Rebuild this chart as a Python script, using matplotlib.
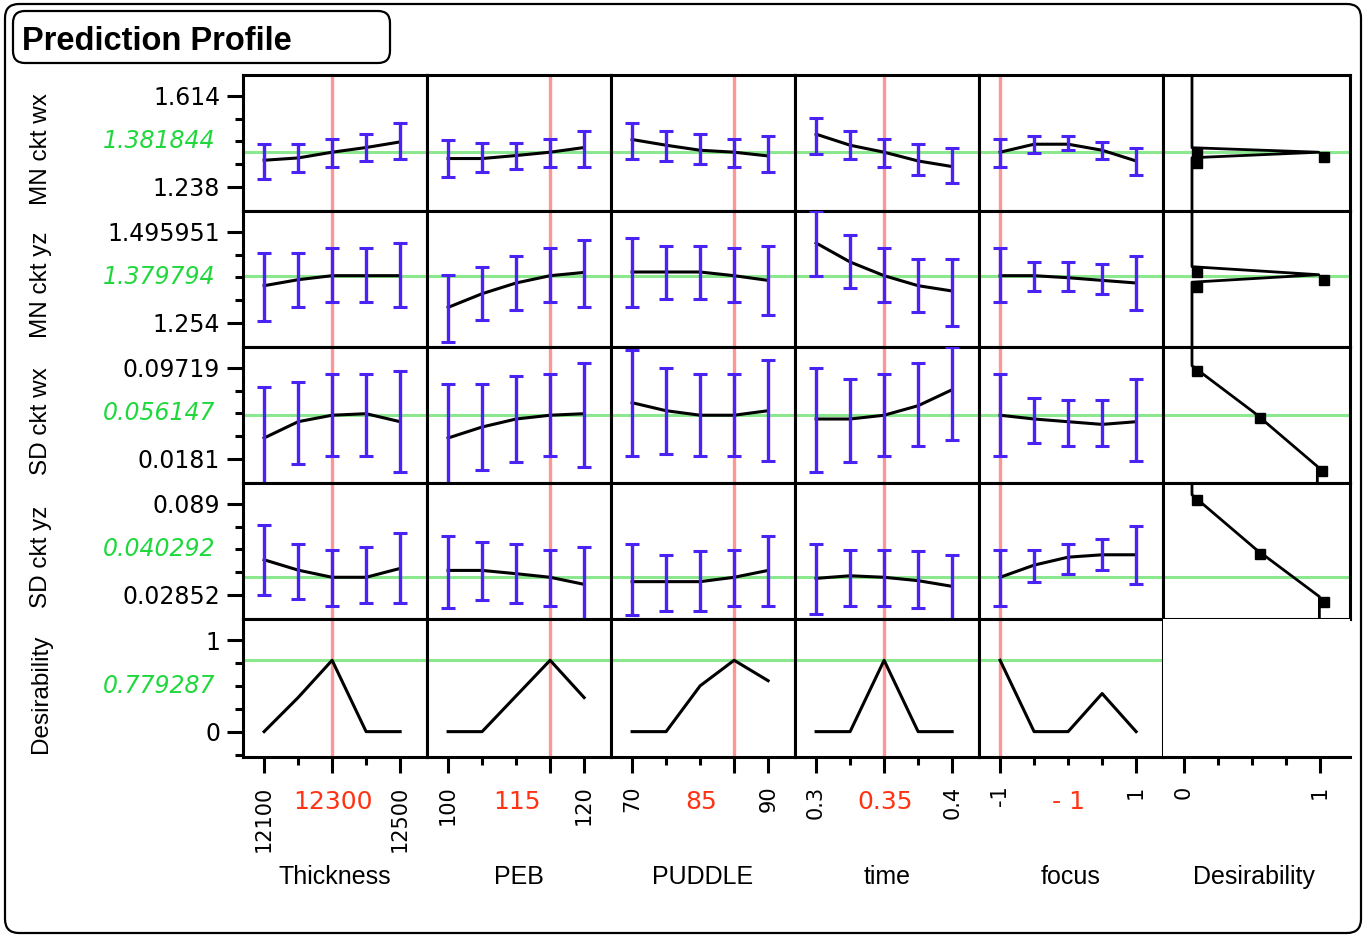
import numpy as np
import matplotlib
matplotlib.use('Agg')
import matplotlib.pyplot as plt
from matplotlib.patches import FancyBboxPatch
from matplotlib.transforms import offset_copy

plt.rcParams['font.family'] = 'DejaVu Sans'

# ---- data -------------------------------------------------------------
factor_names = ['Thickness', 'PEB', 'PUDDLE', 'time', 'focus']
factor_levels = [[12100, 12200, 12300, 12400, 12500],
                 [100, 105, 110, 115, 120],
                 [70, 75, 80, 85, 90],
                 [0.3, 0.325, 0.35, 0.375, 0.4],
                 [-1, -0.5, 0, 0.5, 1]]
factor_current = [12300, 115, 85, 0.35, -1]
factor_current_text = ['12300', '115', '85', '0.35', '- 1']
factor_end_text = [('12100', '12500'), ('100', '120'), ('70', '90'),
                   ('0.3', '0.4'), ('-1', '1')]

response_names = ['MN ckt wx', 'MN ckt yz', 'SD ckt wx', 'SD ckt yz']
response_current = [1.381844, 1.379794, 0.056147, 0.040292]
response_current_text = ['1.381844', '1.379794', '0.056147', '0.040292']
response_axis = [(1.238, 1.614), (1.254, 1.495951), (0.0181, 0.09719), (0.02852, 0.089)]
response_axis_text = [('1.238', '1.614'), ('1.254', '1.495951'),
                      ('0.0181', '0.09719'), ('0.02852', '0.089')]

# predicted mean, lower and upper limits (one list per factor)
mn_wx_mean = [[1.3485, 1.3581, 1.3818, 1.4011, 1.4243],
              [1.3556, 1.3556, 1.3680, 1.3818, 1.4011],
              [1.4342, 1.4106, 1.3899, 1.3818, 1.3663],
              [1.4562, 1.4106, 1.3818, 1.3456, 1.3225],
              [1.3818, 1.4148, 1.4148, 1.3899, 1.3456]]
mn_wx_lo = [[1.2699, 1.3018, 1.3225, 1.3444, 1.3556],
            [1.2794, 1.3018, 1.3113, 1.3225, 1.3225],
            [1.3556, 1.3456, 1.3332, 1.3225, 1.3018],
            [1.3763, 1.3556, 1.3225, 1.2893, 1.2562],
            [1.3225, 1.3788, 1.3899, 1.3556, 1.2893]]
mn_wx_hi = [[1.4148, 1.4148, 1.4355, 1.4562, 1.5030],
            [1.4342, 1.4218, 1.4218, 1.4355, 1.4674],
            [1.5005, 1.4674, 1.4562, 1.4355, 1.4467],
            [1.5224, 1.4674, 1.4355, 1.4148, 1.4011],
            [1.4355, 1.4467, 1.4467, 1.4231, 1.4011]]

mn_yz_mean = [[1.3532, 1.3691, 1.3798, 1.3798, 1.3798],
              [1.2955, 1.3319, 1.3604, 1.3798, 1.3885],
              [1.3896, 1.3896, 1.3896, 1.3798, 1.3673],
              [1.4667, 1.4162, 1.3798, 1.3532, 1.3391],
              [1.3798, 1.3798, 1.3744, 1.3673, 1.3604]]
mn_yz_lo = [[1.2601, 1.2965, 1.3098, 1.3098, 1.2965],
            [1.2035, 1.2609, 1.2886, 1.3098, 1.2965],
            [1.2965, 1.3178, 1.3178, 1.3098, 1.2742],
            [1.3798, 1.3471, 1.3098, 1.2832, 1.2460],
            [1.3098, 1.3391, 1.3391, 1.3311, 1.2886]]
mn_yz_hi = [[1.4391, 1.4391, 1.4534, 1.4534, 1.4675],
            [1.3816, 1.4029, 1.4321, 1.4534, 1.4747],
            [1.4808, 1.4595, 1.4595, 1.4534, 1.4595],
            [1.5510, 1.4888, 1.4534, 1.4242, 1.4242],
            [1.4534, 1.4170, 1.4170, 1.4109, 1.4321]]

sd_wx_mean = [[0.03635, 0.05051, 0.056147, 0.05747, 0.05051],
              [0.03635, 0.04591, 0.05286, 0.056147, 0.05747],
              [0.06702, 0.06007, 0.056147, 0.056147, 0.06007],
              [0.05286, 0.05286, 0.056147, 0.06442, 0.07832],
              [0.056147, 0.05286, 0.05051, 0.04817, 0.05051]]
sd_wx_lo = [[-0.008, 0.01375, 0.02036, 0.02036, 0.0068],
            [-0.008, 0.0088, 0.01549, 0.02071, 0.01115],
            [0.02071, 0.02245, 0.02071, 0.02071, 0.01665],
            [0.0068, 0.01549, 0.02071, 0.0294, 0.03461],
            [0.02071, 0.0320, 0.0294, 0.0294, 0.01665]]
sd_wx_hi = [[0.08032, 0.08527, 0.09223, 0.09223, 0.09483],
            [0.08328, 0.08328, 0.09049, 0.09223, 0.10152],
            [0.11282, 0.09718, 0.09223, 0.09223, 0.10413],
            [0.09718, 0.08762, 0.09223, 0.10152, 0.1153],
            [0.09223, 0.07111, 0.06937, 0.06937, 0.08762]]

sd_yz_mean = [[0.05194, 0.04506, 0.040292, 0.040292, 0.04619],
              [0.04486, 0.04486, 0.04268, 0.040292, 0.0356],
              [0.03739, 0.03739, 0.03739, 0.040292, 0.04486],
              [0.03957, 0.0413, 0.040292, 0.03805, 0.03428],
              [0.040292, 0.04837, 0.05366, 0.05525, 0.05525]]
sd_yz_lo = [[0.02878, 0.02567, 0.02151, 0.02349, 0.02349],
            [0.02018, 0.02548, 0.02349, 0.02151, 0.005],
            [0.01509, 0.0182, 0.0182, 0.02151, 0.02151],
            [0.01621, 0.02151, 0.02151, 0.02018, 0.005],
            [0.02151, 0.03739, 0.04268, 0.04486, 0.0358]]
sd_yz_hi = [[0.07484, 0.06273, 0.05856, 0.06074, 0.06955],
            [0.06782, 0.06405, 0.06273, 0.05856, 0.06055],
            [0.06273, 0.05525, 0.05744, 0.05856, 0.06782],
            [0.06273, 0.05856, 0.05856, 0.05744, 0.05525],
            [0.05856, 0.05856, 0.06273, 0.06584, 0.07444]]

desirability_current = 0.779287
desirability_profile = [[0, 0.372, 0.779287, 0, 0],
                        [0, 0, 0.39, 0.779287, 0.372],
                        [0, 0, 0.5, 0.779287, 0.556],
                        [0, 0, 0.779287, 0, 0],
                        [0.779287, 0, 0, 0.416, 0]]

# desirability function handles: response value and desirability
handle_resp = [[1.4003, 1.3817, 1.3589],
               [1.4037, 1.3824, 1.3625],
               [0.09918, 0.05807, 0.01167],
               [0.09515, 0.05922, 0.02746]]
handle_des = [[0.059, 0.99, 0.059],
              [0.059, 0.99, 0.059],
              [0.059, 0.52, 0.98],
              [0.059, 0.525, 0.995]]

all_mean = [mn_wx_mean, mn_yz_mean, sd_wx_mean, sd_yz_mean]
all_lo = [mn_wx_lo, mn_yz_lo, sd_wx_lo, sd_yz_lo]
all_hi = [mn_wx_hi, mn_yz_hi, sd_wx_hi, sd_yz_hi]

# ---- style ------------------------------------------------------------
W, H = 1364, 941
col_x = [243, 427, 611, 795, 979, 1163, 1350]
row_y = [75, 211, 347, 483, 619, 757]

blue = '#4a22f4'
red_line = '#ff9696'
green_line = '#8ce88e'
green_text = '#1fd83c'
red_text = '#ff3314'
LW = 2.2
NUM_SIZE = 17
WORD_FONT = 'Liberation Sans'

fig = plt.figure(figsize=(W / 100, H / 100), dpi=100)
fig.patch.set_facecolor('white')

bg = fig.add_axes([0, 0, 1, 1])
bg.set_xlim(0, W)
bg.set_ylim(H, 0)
bg.axis('off')
bg.add_patch(FancyBboxPatch((5, 4), 1356, 929, boxstyle='round,pad=0,rounding_size=14',
                            fill=False, lw=1.6, ec='black'))
bg.add_patch(FancyBboxPatch((13, 11), 377, 52, boxstyle='round,pad=0,rounding_size=12',
                            fill=False, lw=1.6, ec='black'))
bg.text(22, 50, 'Prediction Profile', fontsize=23.5, fontweight='bold',
        family=WORD_FONT, va='baseline', ha='left')


def cell(c, r):
    x0, x1 = col_x[c], col_x[c + 1]
    y0, y1 = row_y[r], row_y[r + 1]
    ax = fig.add_axes([x0 / W, 1 - y1 / H, (x1 - x0) / W, (y1 - y0) / H])
    for s in ax.spines.values():
        s.set_linewidth(LW)
    ax.tick_params(which='both', width=LW, colors='black')
    ax.set_xticks([])
    ax.set_yticks([])
    return ax


def factor_xlim(c):
    lv = factor_levels[c]
    step = lv[1] - lv[0]
    return lv[0] - 0.62 * step, lv[-1] + 0.79 * step


def response_ylim(r):
    lo, hi = response_axis[r]
    s = (hi - lo) / 4
    return lo - 1.055 * s, hi + 0.923 * s


des_ylim = (-0.277, 1.23)
des_xlim = (-0.154, 1.22)

# ---- response rows ---------------------------------------------------
for r in range(4):
    for c in range(5):
        ax = cell(c, r)
        ax.set_xlim(factor_xlim(c))
        ax.set_ylim(response_ylim(r))
        ax.axvline(factor_current[c], color=red_line, lw=2.4, zorder=1)
        ax.axhline(response_current[r], color=green_line, lw=LW, zorder=1)
        x = np.array(factor_levels[c])
        m = np.array(all_mean[r][c])
        lo = np.array(all_lo[r][c])
        hi = np.array(all_hi[r][c])
        ax.plot(x, m, color='black', lw=LW, zorder=3)
        ax.errorbar(x, m, yerr=[m - lo, hi - m], fmt='none', ecolor=blue,
                    elinewidth=2.4, capsize=4.7, capthick=2.2, zorder=4)
        if c == 0:
            lo_t, hi_t = response_axis[r]
            s = (hi_t - lo_t) / 4
            ax.set_yticks([lo_t, hi_t], labels=list(response_axis_text[r]))
            ax.set_yticks([lo_t + s, lo_t + 2 * s, lo_t + 3 * s], minor=True)
            ax.tick_params(axis='y', which='major', length=11.5, pad=5, labelsize=NUM_SIZE)
            ax.tick_params(axis='y', which='minor', length=5.5)
            ax.annotate(response_current_text[r], xy=(0, lo_t + 2 * s),
                        xycoords=('axes fraction', 'data'), xytext=(-20, 0),
                        textcoords='offset points', ha='right', va='center',
                        fontsize=NUM_SIZE, style='italic', color=green_text)

    # desirability function panel
    ax = cell(5, r)
    ax.set_xlim(des_xlim)
    ax.set_ylim(response_ylim(r))
    ax.axhline(response_current[r], color=green_line, lw=LW, zorder=1)
    ylo, yhi = ax.get_ylim()
    d = [handle_des[r][0]] + handle_des[r] + [handle_des[r][-1]]
    v = [yhi] + handle_resp[r] + [ylo]
    ax.plot(d, v, color='black', lw=2.0, zorder=3)
    ax.plot(handle_des[r], handle_resp[r], 's', color='black', ms=7.6, zorder=4,
            transform=offset_copy(ax.transData, fig=fig, x=5, y=-5, units='dots'))

    bg.text(41, (row_y[r] + row_y[r + 1]) / 2 + 6, response_names[r], rotation=90,
            ha='center', va='center', fontsize=17.5, family=WORD_FONT)

# ---- desirability row ------------------------------------------------
for c in range(5):
    ax = cell(c, 4)
    ax.set_xlim(factor_xlim(c))
    ax.set_ylim(des_ylim)
    ax.axvline(factor_current[c], color=red_line, lw=2.4, zorder=1)
    ax.axhline(desirability_current, color=green_line, lw=LW, zorder=1)
    ax.plot(factor_levels[c], desirability_profile[c], color='black', lw=LW, zorder=3)

    lv = factor_levels[c]
    major = sorted(set([lv[0], lv[-1], factor_current[c]]))
    labels = []
    for t in major:
        if t == lv[0]:
            labels.append(factor_end_text[c][0])
        elif t == lv[-1]:
            labels.append(factor_end_text[c][1])
        else:
            labels.append('')
    ax.set_xticks(major, labels=labels)
    ax.set_xticks([t for t in lv if t not in major], minor=True)
    ax.tick_params(axis='x', which='major', length=11.5, pad=9, labelsize=15,
                   labelrotation=90)
    ax.tick_params(axis='x', which='minor', length=5.5)

    if c == 0:
        ax.set_yticks([0, 1], labels=['0', '1'])
        ax.set_yticks([-0.25, 0.25, 0.5, 0.75], minor=True)
        ax.tick_params(axis='y', which='major', length=11.5, pad=5, labelsize=NUM_SIZE)
        ax.tick_params(axis='y', which='minor', length=5.5)
        ax.annotate(f'{desirability_current:.6f}', xy=(0, 0.5),
                    xycoords=('axes fraction', 'data'), xytext=(-20, 0),
                    textcoords='offset points', ha='right', va='center',
                    fontsize=NUM_SIZE, style='italic', color=green_text)

    cx = (col_x[c] + col_x[c + 1]) / 2
    bg.text(cx - 2, 802, factor_current_text[c], color=red_text, fontsize=18,
            ha='center', va='center')
    bg.text(cx, 877, factor_names[c], fontsize=18, family=WORD_FONT,
            ha='center', va='center')

bg.text(41, (row_y[4] + row_y[5]) / 2 + 6, 'Desirability', rotation=90,
        ha='center', va='center', fontsize=17.5, family=WORD_FONT)

# desirability axis under the last column
ax = cell(5, 4)
ax.set_xlim(des_xlim)
ax.set_ylim(des_ylim)
for side in ['top', 'right', 'left']:
    ax.spines[side].set_visible(False)
ax.set_xticks([0, 1], labels=['0', '1'])
ax.set_xticks([0.25, 0.5, 0.75], minor=True)
ax.tick_params(axis='x', which='major', length=11.5, pad=9, labelsize=15, labelrotation=90)
ax.tick_params(axis='x', which='minor', length=5.5)
bg.text((col_x[5] + col_x[6]) / 2 - 3, 877, 'Desirability', fontsize=18, family=WORD_FONT,
        ha='center', va='center')

fig.savefig('out.png', dpi=100)
